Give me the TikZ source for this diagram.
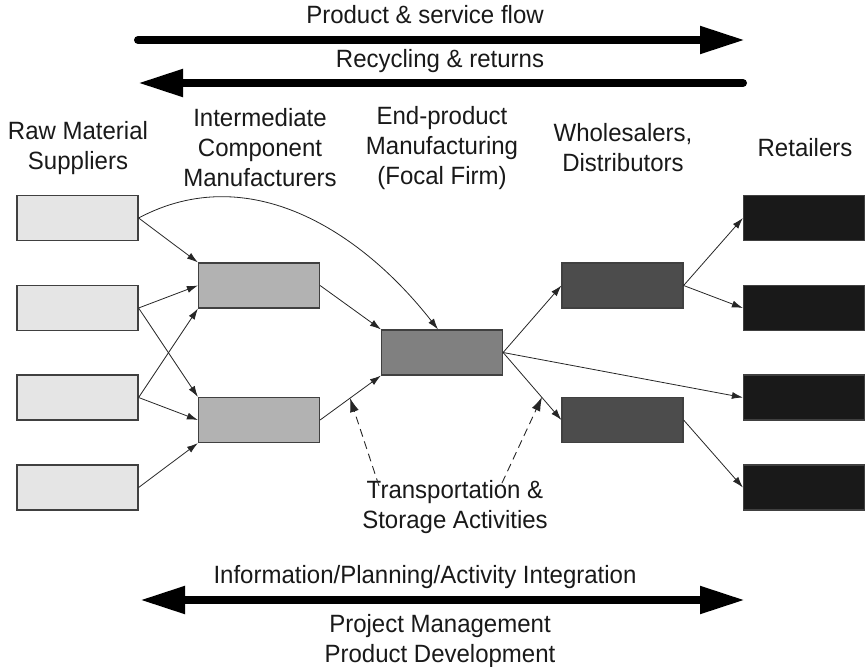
\documentclass[tikz,border=0pt]{standalone}
\usepackage{fontspec}
\setmainfont{Liberation Sans}[FakeStretch=0.96]
\usetikzlibrary{arrows.meta}
\tikzset{bigtip/.tip={Triangle[length=45pt,width=26pt]}}
\begin{document}
\begin{tikzpicture}[x=1pt,y=-1pt,
  box/.style={draw=black!75,line width=1.2pt,minimum width=121pt,minimum height=45pt,inner sep=0pt},
  lbl/.style={font=\fontsize{25}{30}\selectfont,align=center,text=black!90,inner sep=0pt},
  flow/.style={-{Latex[length=11pt,width=7pt]},line width=0.8pt,draw=black!85},
  dflow/.style={-{Latex[length=14pt,width=9pt]},line width=0.9pt,dash pattern=on 8pt off 5pt,draw=black!85},
  big/.style={line width=8pt,line cap=round}]
\useasboundingbox (0,0) rectangle (866,666);
% boxes
\node[box,fill=black!10] (r1) at (77.5,218) {};
\node[box,fill=black!10] (r2) at (77.5,308) {};
\node[box,fill=black!10] (r3) at (77.5,397.5) {};
\node[box,fill=black!10] (r4) at (77.5,487.5) {};
\node[box,fill=black!30] (i1) at (259,285.5) {};
\node[box,fill=black!30] (i2) at (259,420) {};
\node[box,fill=black!50] (f) at (442,352.5) {};
\node[box,fill=black!70] (w1) at (622.5,285.5) {};
\node[box,fill=black!70] (w2) at (622.5,420) {};
\node[box,fill=black!90] (t1) at (804,218) {};
\node[box,fill=black!90] (t2) at (804,308) {};
\node[box,fill=black!90] (t3) at (804,397.5) {};
\node[box,fill=black!90] (t4) at (804,487.5) {};
% headers
\node[lbl] (hr) at (78,148) {Raw Material\\Suppliers};
\node[lbl] (hi) at (260,148) {Intermediate\\Component\\Manufacturers};
\node[lbl] (hf) at (442,148) {End-product\\Manufacturing\\(Focal Firm)};
\node[lbl] (hw) at (623,148) {Wholesalers,\\Distributors};
\node[lbl] (ht) at (805,148) {Retailers};
% connectors
\draw[flow] (r1.east) -- (i1.north west);
\draw[flow] (r2.east) -- (i1.west);
\draw[flow] (r2.east) -- (i2.north west);
\draw[flow] (r3.east) -- (i1.south west);
\draw[flow] (r3.east) -- (i2.west);
\draw[flow] (r4.east) -- (i2.south west);
\draw[flow] (r1.east) to[out=28,in=128] ([xshift=-4pt]f.north);
\draw[flow] (i1.east) -- (f.north west);
\draw[flow] (i2.east) -- (f.south west);
\draw[flow] (f.east) -- (w1.west);
\draw[flow] (f.east) -- (w2.west);
\draw[flow] (f.east) -- (t3.west);
\draw[flow] (w1.east) -- (t1.west);
\draw[flow] (w1.east) -- (t2.west);
\draw[flow] (w2.east) -- (t4.west);
% transportation
\node[lbl] (tr) at (455,507) {Transportation \&\\Storage Activities};
\coordinate (d1s) at (379,486);
\coordinate (d1e) at (350,398);
\coordinate (d2s) at (502,483);
\coordinate (d2e) at (542,397);
\draw[dflow] (d1s) -- (d1e);
\draw[dflow] (d2s) -- (d2e);
% top arrows
\node[lbl] (pf) at (425,15) {Product \& service flow};
\coordinate (a1s) at (138,40);
\coordinate (a1e) at (745,40);
\draw[big,-{bigtip}] (a1s) -- (a1e);
\node[lbl] (rr) at (440,61) {Recycling \& returns};
\coordinate (a2s) at (743,83);
\coordinate (a2e) at (138,83);
\draw[big,-{bigtip}] (a2s) -- (a2e);
% bottom
\node[lbl] (ip) at (425,577) {Information/Planning/Activity Integration};
\coordinate (b1) at (140,600);
\coordinate (b2) at (745,600);
\draw[line width=8pt,{bigtip}-{bigtip}] (b1) -- (b2);
\node[lbl] (pm) at (440,641) {Project Management\\Product Development};
\end{tikzpicture}
\end{document}
